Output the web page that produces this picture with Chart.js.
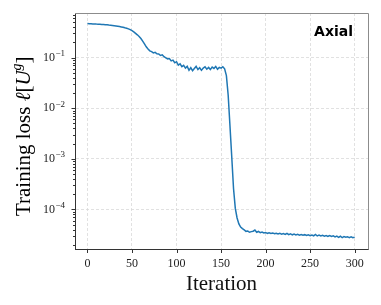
<!DOCTYPE html>
<html>
<head>
<meta charset="utf-8">
<script src="https://cdn.jsdelivr.net/npm/chart.js@4.4.1/dist/chart.umd.min.js"></script>
<style>
  html, body { margin: 0; padding: 0; background: #fff; }
  #wrap { width: 381px; height: 305px; }
</style>
</head>
<body>
<div id="wrap"><canvas id="lossChart" width="381" height="305"></canvas></div>
<script>
// Training loss, one value every 2 iterations (0..300)
const iterStep = 2;
const lossValues = [
  0.470, 0.468, 0.467, 0.463, 0.462, 0.459, 0.457, 0.455, 0.451, 0.449,
  0.446, 0.444, 0.439, 0.435, 0.431, 0.426, 0.421, 0.416, 0.410, 0.404,
  0.398, 0.389, 0.381, 0.370, 0.356, 0.340, 0.322, 0.301, 0.282, 0.262,
  0.238, 0.212, 0.186, 0.163, 0.148, 0.136, 0.131, 0.124, 0.127, 0.119,
  0.118, 0.110, 0.113, 0.104, 0.099, 0.094, 0.096, 0.086, 0.089, 0.079,
  0.083, 0.071, 0.075, 0.066, 0.070, 0.062, 0.067, 0.056, 0.063, 0.055,
  0.061, 0.067, 0.058, 0.063, 0.056, 0.062, 0.066, 0.059, 0.064, 0.058,
  0.065, 0.061, 0.067, 0.059, 0.064, 0.062, 0.066, 0.060, 0.044, 0.018,
  0.0045, 0.0011, 0.00026, 0.000105, 0.000068, 0.000052, 0.000045, 0.000042, 0.0000395, 0.000037,
  0.0000375, 0.0000355, 0.0000365, 0.0000372, 0.0000392, 0.0000355, 0.0000368, 0.0000349, 0.0000358, 0.0000343,
  0.0000352, 0.0000338, 0.0000347, 0.0000336, 0.0000344, 0.0000331, 0.0000340, 0.0000328, 0.0000337, 0.0000325,
  0.0000335, 0.0000322, 0.0000338, 0.0000318, 0.0000329, 0.0000316, 0.0000326, 0.0000314, 0.0000323, 0.0000311,
  0.0000320, 0.0000309, 0.0000318, 0.0000306, 0.0000316, 0.0000304, 0.0000313, 0.0000302, 0.0000322, 0.0000300,
  0.0000311, 0.0000299, 0.0000308, 0.0000297, 0.0000306, 0.0000295, 0.0000304, 0.0000293, 0.0000302, 0.0000288,
  0.0000299, 0.0000282, 0.0000296, 0.0000279, 0.0000292, 0.0000283, 0.0000290, 0.0000278, 0.0000287, 0.0000276,
  0.0000285
];

// Axis ticks
const xTicks = [0, 50, 100, 150, 200, 250, 300];
const yDecades = [1e-5, 1e-4, 1e-3, 1e-2, 1e-1];
const yLabelled = [1e-4, 1e-3, 1e-2, 1e-1];
const yTickExponents = ['−4', '−3', '−2', '−1'];
const panelLabel = 'Axial';

const xMin = -14, xMax = 315;
const yMin = 1.62e-5, yMax = 0.76;

const points = lossValues.map((v, i) => ({ x: i * iterStep, y: v }));

// all 1..9 x decade values inside the y range
const yTickValues = [];
yDecades.forEach(d => {
  for (let k = 1; k <= 9; k++) {
    const v = d * k;
    if (v >= yMin && v <= yMax) yTickValues.push(v);
  }
});

function isLabelled(v) {
  return yLabelled.findIndex(d => Math.abs(v - d) / d < 1e-6);
}

const serif = "'Liberation Serif', 'DejaVu Serif', serif";

const decorations = {
  id: 'decorations',
  afterDraw(chart) {
    const ctx = chart.ctx;
    const a = chart.chartArea;
    const xs = chart.scales.x, ys = chart.scales.y;
    ctx.save();

    // top + right spines
    ctx.strokeStyle = '#8c8c8c';
    ctx.lineWidth = 1;
    ctx.beginPath();
    ctx.moveTo(a.left, a.top + 0.5);
    ctx.lineTo(a.right + 0.5, a.top + 0.5);
    ctx.lineTo(a.right + 0.5, a.bottom);
    ctx.stroke();

    // tick marks (outward)
    ctx.strokeStyle = '#333';
    ctx.beginPath();
    xTicks.forEach(t => {
      const px = Math.round(xs.getPixelForValue(t)) + 0.5;
      ctx.moveTo(px, a.bottom);
      ctx.lineTo(px, a.bottom + 3.5);
    });
    yTickValues.forEach(v => {
      const py = Math.round(ys.getPixelForValue(v)) + 0.5;
      const len = isLabelled(v) >= 0 ? 3.5 : 2;
      ctx.moveTo(a.left, py);
      ctx.lineTo(a.left - len, py);
    });
    ctx.stroke();

    // y tick labels 10^n
    ctx.fillStyle = '#222';
    ctx.textBaseline = 'middle';
    yLabelled.forEach((v, i) => {
      const py = ys.getPixelForValue(v);
      ctx.font = '9px ' + serif;
      const ew = ctx.measureText(yTickExponents[i]).width;
      ctx.textAlign = 'right';
      ctx.fillText(yTickExponents[i], 65, py - 4);
      ctx.font = '12px ' + serif;
      ctx.fillText('10', 65 - ew - 0.5, py);
    });

    // panel label
    ctx.fillStyle = '#000';
    ctx.font = "bold 14px 'DejaVu Sans', sans-serif";
    ctx.textAlign = 'right';
    ctx.textBaseline = 'alphabetic';
    ctx.fillText(panelLabel, 353, 36);

    // y axis title: Training loss ℓ[U^g]
    const parts = [
      { t: 'Training loss ', f: '21px ' + serif, dy: 0 },
      { t: 'ℓ', f: 'italic 21px ' + serif, dy: 0 },
      { t: '[', f: '21px ' + serif, dy: 0 },
      { t: 'U', f: 'italic 21px ' + serif, dy: 0 },
      { t: 'g', f: 'italic 14px ' + serif, dy: -9 },
      { t: ']', f: '21px ' + serif, dy: 0 }
    ];
    let total = 0;
    parts.forEach(p => { ctx.font = p.f; p.w = ctx.measureText(p.t).width; total += p.w; });
    ctx.translate(30, (a.top + a.bottom) / 2 + 5);
    ctx.rotate(-Math.PI / 2);
    ctx.textAlign = 'left';
    let cx = -total / 2;
    parts.forEach(p => {
      ctx.font = p.f;
      ctx.fillText(p.t, cx, p.dy);
      cx += p.w;
    });
    ctx.restore();
  }
};

const ctx = document.getElementById('lossChart').getContext('2d');
const lossChart = new Chart(ctx, {
  type: 'line',
  data: {
    datasets: [{
      data: points,
      borderColor: '#1f77b4',
      borderWidth: 1.5,
      pointRadius: 0,
      fill: false,
      tension: 0
    }]
  },
  options: {
    responsive: false,
    animation: false,
    events: [],
    layout: { padding: { top: 13, right: 13, left: 0, bottom: 0 } },
    plugins: {
      legend: { display: false },
      tooltip: { enabled: false }
    },
    scales: {
      x: {
        type: 'linear',
        min: xMin,
        max: xMax,
        afterBuildTicks: scale => { scale.ticks = xTicks.map(v => ({ value: v })); },
        afterFit: scale => { scale.height = 55.5; },
        ticks: {
          color: '#222',
          font: { family: serif, size: 12 },
          padding: 7,
          maxRotation: 0,
          autoSkip: false
        },
        grid: { color: '#d9d9d9', lineWidth: 0.8, drawTicks: false },
        border: { display: true, color: '#333', width: 1, dash: [3, 2] },
        title: {
          display: true,
          text: 'Iteration',
          color: '#111',
          font: { family: serif, size: 21 },
          padding: { top: 0, bottom: 8 }
        }
      },
      y: {
        type: 'logarithmic',
        min: yMin,
        max: yMax,
        afterBuildTicks: scale => { scale.ticks = yTickValues.map(v => ({ value: v })); },
        afterFit: scale => { scale.width = 75; },
        ticks: { display: false, padding: 0, autoSkip: false },
        grid: {
          color: c => (c.tick && isLabelled(c.tick.value) >= 0) ? '#d9d9d9' : 'rgba(0,0,0,0)',
          lineWidth: 0.8,
          drawTicks: false
        },
        border: { display: true, color: '#333', width: 1, dash: [3, 2] }
      }
    }
  },
  plugins: [decorations]
});
</script>
</body>
</html>
